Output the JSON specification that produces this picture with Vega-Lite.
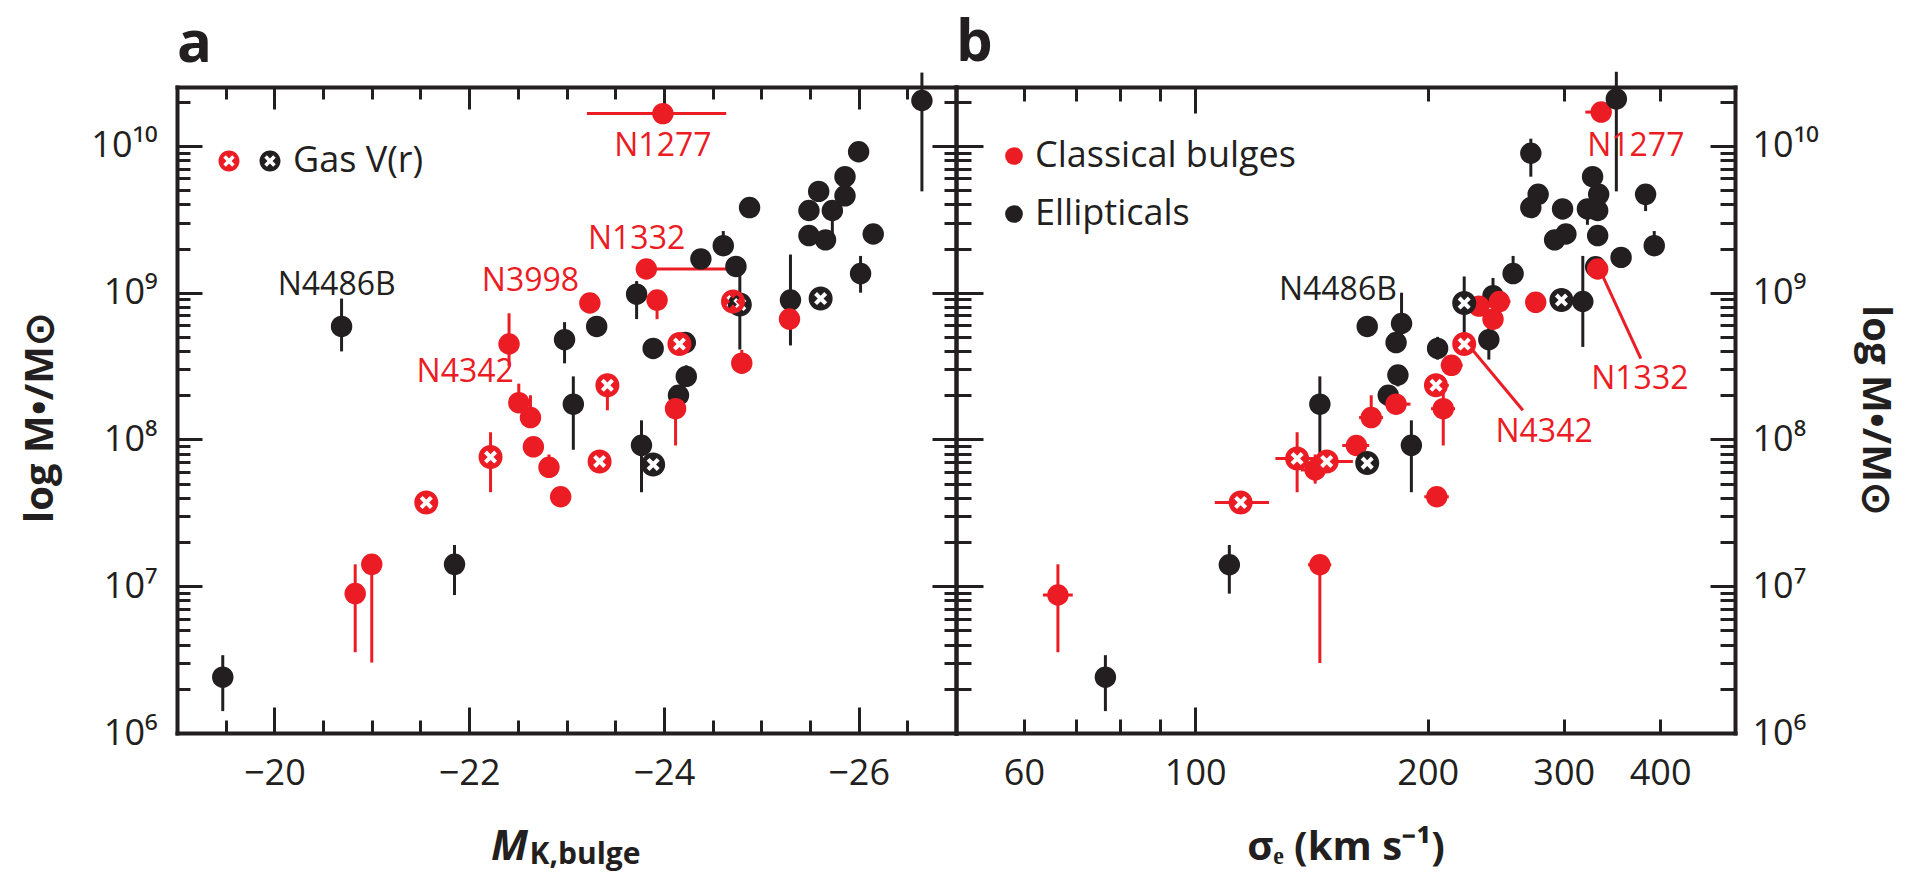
{
  "$schema": "https://vega.github.io/schema/vega-lite/v6.json",
  "background": "white",
  "padding": {"left": 20, "top": 15, "right": 15, "bottom": 5},
  "config": {
    "view": {"stroke": null},
    "font": "Open Sans",
    "axis": {"grid": false, "domainColor": "#231f20", "domainWidth": 4, "domainCap": "square", "tickColor": "#231f20", "tickWidth": 3, "labelFont": "Open Sans", "labelFontSize": 36, "labelColor": "#231f20", "labelFlush": false, "labelOverlap": false, "titleFont": "Open Sans", "titleFontSize": 40, "titleFontWeight": "bold", "titleColor": "#231f20"},
    "legend": {"labelFont": "Open Sans", "labelFontSize": 36, "labelColor": "#231f20", "labelLimit": 500, "padding": 0},
    "title": {"font": "Open Sans", "fontSize": 58, "fontWeight": "bold", "anchor": "start", "frame": "group", "color": "#231f20", "offset": -3},
    "text": {"font": "Open Sans", "fontSize": 32}
  },
  "datasets": {
    "a": [
      {"mk": -19.47, "m": 2.4e6, "lo": 1.41e6, "hi": 3.39e6, "type": "Ellipticals"},
      {"mk": -20.69, "m": 5.89e8, "lo": 3.98e8, "hi": 9.12e8, "type": "Ellipticals"},
      {"mk": -21.85, "m": 1.41e7, "lo": 8.71e6, "hi": 1.91e7, "type": "Ellipticals"},
      {"mk": -22.98, "m": 4.79e8, "lo": 3.3e8, "hi": 6.3e8, "type": "Ellipticals"},
      {"mk": -23.07, "m": 1.74e8, "lo": 8.51e7, "hi": 2.69e8, "type": "Ellipticals"},
      {"mk": -23.31, "m": 5.89e8, "type": "Ellipticals"},
      {"mk": -23.72, "m": 9.77e8, "lo": 6.61e8, "hi": 1.2e9, "type": "Ellipticals"},
      {"mk": -23.77, "m": 9.12e7, "lo": 4.37e7, "hi": 1.35e8, "type": "Ellipticals"},
      {"mk": -23.89, "m": 4.17e8, "lo": 3.55e8, "hi": 4.9e8, "type": "Ellipticals"},
      {"mk": -24.23, "m": 2.69e8, "lo": 2.3e8, "hi": 3.2e8, "type": "Ellipticals"},
      {"mk": -24.15, "m": 2.0e8, "type": "Ellipticals"},
      {"mk": -24.22, "m": 4.57e8, "type": "Ellipticals"},
      {"mk": -24.38, "m": 1.7e9, "type": "Ellipticals"},
      {"mk": -24.61, "m": 2.09e9, "lo": 1.8e9, "hi": 2.63e9, "type": "Ellipticals"},
      {"mk": -24.74, "m": 1.51e9, "type": "Ellipticals"},
      {"mk": -24.88, "m": 3.8e9, "lo": 3.3e9, "hi": 4.2e9, "type": "Ellipticals"},
      {"mk": -25.3, "m": 8.91e8, "lo": 4.37e8, "hi": 1.82e9, "type": "Ellipticals"},
      {"mk": -25.49, "m": 2.45e9, "type": "Ellipticals"},
      {"mk": -25.66, "m": 2.29e9, "lo": 2.0e9, "hi": 2.6e9, "type": "Ellipticals"},
      {"mk": -25.49, "m": 3.63e9, "type": "Ellipticals"},
      {"mk": -25.73, "m": 3.63e9, "lo": 2.51e9, "hi": 3.9e9, "type": "Ellipticals"},
      {"mk": -25.59, "m": 4.9e9, "type": "Ellipticals"},
      {"mk": -25.86, "m": 4.57e9, "type": "Ellipticals"},
      {"mk": -25.86, "m": 6.17e9, "type": "Ellipticals"},
      {"mk": -26.0, "m": 9.12e9, "lo": 7.94e9, "hi": 1.05e10, "type": "Ellipticals"},
      {"mk": -26.15, "m": 2.51e9, "lo": 2.51e9, "hi": 2.9e9, "type": "Ellipticals"},
      {"mk": -26.02, "m": 1.35e9, "lo": 1.0e9, "hi": 1.78e9, "type": "Ellipticals"},
      {"mk": -26.65, "m": 2.04e10, "lo": 4.9e9, "hi": 3.16e10, "type": "Ellipticals"},
      {"mk": -23.89, "m": 6.76e7, "type": "Ellipticals", "gas": true},
      {"mk": -25.61, "m": 9.12e8, "type": "Ellipticals", "gas": true},
      {"mk": -24.78, "m": 8.3e8, "lo": 4.1e8, "hi": 1.4e9, "type": "Ellipticals", "gas": true},
      {"mk": -20.83, "m": 8.91e6, "lo": 3.55e6, "hi": 1.41e7, "type": "Classical bulges"},
      {"mk": -21.0, "m": 1.41e7, "lo": 3.02e6, "hi": 1.41e7, "type": "Classical bulges"},
      {"mk": -22.41, "m": 4.47e8, "lo": 3.16e8, "hi": 7.24e8, "type": "Classical bulges"},
      {"mk": -22.51, "m": 1.78e8, "lo": 1.78e8, "hi": 2.4e8, "type": "Classical bulges"},
      {"mk": -22.63, "m": 1.41e8, "lo": 1.41e8, "hi": 2.0e8, "type": "Classical bulges"},
      {"mk": -22.66, "m": 8.91e7, "lo": 7.9e7, "hi": 1.0e8, "type": "Classical bulges"},
      {"mk": -22.82, "m": 6.46e7, "lo": 5.6e7, "hi": 7.9e7, "type": "Classical bulges"},
      {"mk": -22.94, "m": 4.07e7, "type": "Classical bulges"},
      {"mk": -23.24, "m": 8.51e8, "type": "Classical bulges"},
      {"mk": -23.82, "m": 1.45e9, "xlo": -23.82, "xhi": -24.74, "type": "Classical bulges"},
      {"mk": -23.93, "m": 8.91e8, "lo": 6.6e8, "hi": 8.91e8, "type": "Classical bulges"},
      {"mk": -24.12, "m": 1.62e8, "lo": 9.1e7, "hi": 2.34e8, "type": "Classical bulges"},
      {"mk": -24.8, "m": 3.31e8, "lo": 3.31e8, "hi": 4.07e8, "type": "Classical bulges"},
      {"mk": -25.29, "m": 6.61e8, "type": "Classical bulges"},
      {"mk": -23.99, "m": 1.66e10, "xlo": -23.21, "xhi": -24.64, "type": "Classical bulges"},
      {"mk": -21.56, "m": 3.72e7, "type": "Classical bulges", "gas": true},
      {"mk": -22.22, "m": 7.59e7, "lo": 4.37e7, "hi": 1.12e8, "type": "Classical bulges", "gas": true},
      {"mk": -23.34, "m": 7.08e7, "type": "Classical bulges", "gas": true},
      {"mk": -23.42, "m": 2.34e8, "lo": 1.58e8, "hi": 2.34e8, "type": "Classical bulges", "gas": true},
      {"mk": -24.16, "m": 4.47e8, "lo": 3.8e8, "hi": 5.25e8, "type": "Classical bulges", "gas": true},
      {"mk": -24.71, "m": 8.71e8, "type": "Classical bulges", "gas": true}
    ],
    "b": [
      {"s": 335.5, "m": 1.7e10, "xlo": 320, "xhi": 345, "type": "Classical bulges"},
      {"s": 76.5, "m": 2.4e6, "lo": 1.41e6, "hi": 3.39e6, "type": "Ellipticals"},
      {"s": 110.7, "m": 1.4e7, "lo": 8.9e6, "hi": 1.91e7, "type": "Ellipticals"},
      {"s": 145, "m": 1.74e8, "lo": 8.1e7, "hi": 2.69e8, "type": "Ellipticals"},
      {"s": 167, "m": 5.89e8, "type": "Ellipticals"},
      {"s": 185, "m": 6.17e8, "lo": 5.0e8, "hi": 1.0e9, "type": "Ellipticals"},
      {"s": 182, "m": 4.57e8, "type": "Ellipticals"},
      {"s": 183, "m": 2.75e8, "lo": 2.3e8, "hi": 3.2e8, "type": "Ellipticals"},
      {"s": 177.8, "m": 2.0e8, "lo": 1.7e8, "hi": 2.2e8, "type": "Ellipticals"},
      {"s": 190.5, "m": 9.12e7, "lo": 4.37e7, "hi": 1.35e8, "type": "Ellipticals"},
      {"s": 206, "m": 4.17e8, "lo": 3.5e8, "hi": 5.0e8, "type": "Ellipticals"},
      {"s": 240, "m": 4.79e8, "lo": 3.5e8, "hi": 6.3e8, "type": "Ellipticals"},
      {"s": 243, "m": 9.55e8, "lo": 7.1e8, "hi": 1.26e9, "type": "Ellipticals"},
      {"s": 258, "m": 1.35e9, "lo": 1.35e9, "hi": 1.78e9, "type": "Ellipticals"},
      {"s": 272, "m": 8.91e9, "lo": 6.17e9, "hi": 1.12e10, "type": "Ellipticals"},
      {"s": 278, "m": 4.68e9, "type": "Ellipticals"},
      {"s": 272, "m": 3.8e9, "type": "Ellipticals"},
      {"s": 299, "m": 3.72e9, "type": "Ellipticals"},
      {"s": 302, "m": 2.51e9, "type": "Ellipticals"},
      {"s": 292, "m": 2.29e9, "type": "Ellipticals"},
      {"s": 317.6, "m": 8.71e8, "lo": 4.27e8, "hi": 1.78e9, "type": "Ellipticals"},
      {"s": 322, "m": 3.72e9, "lo": 2.9e9, "hi": 3.72e9, "type": "Ellipticals"},
      {"s": 327, "m": 6.17e9, "type": "Ellipticals"},
      {"s": 333, "m": 4.68e9, "type": "Ellipticals"},
      {"s": 332, "m": 3.63e9, "type": "Ellipticals"},
      {"s": 332, "m": 2.45e9, "type": "Ellipticals"},
      {"s": 330, "m": 1.5e9, "type": "Ellipticals"},
      {"s": 351, "m": 2.09e10, "lo": 4.9e9, "hi": 3.2e10, "type": "Ellipticals"},
      {"s": 356, "m": 1.74e9, "type": "Ellipticals"},
      {"s": 383, "m": 4.68e9, "lo": 3.6e9, "hi": 4.68e9, "type": "Ellipticals"},
      {"s": 393, "m": 2.09e9, "lo": 2.09e9, "hi": 2.63e9, "type": "Ellipticals"},
      {"s": 167, "m": 6.9e7, "type": "Ellipticals", "gas": true},
      {"s": 223, "m": 8.5e8, "lo": 4.37e8, "hi": 1.29e9, "type": "Ellipticals", "gas": true},
      {"s": 298, "m": 8.91e8, "type": "Ellipticals", "gas": true},
      {"s": 66.4, "m": 8.71e6, "lo": 3.55e6, "hi": 1.41e7, "xlo": 63.5, "xhi": 69.4, "type": "Classical bulges"},
      {"s": 145, "m": 1.4e7, "lo": 3.0e6, "hi": 1.4e7, "xlo": 140, "xhi": 150, "type": "Classical bulges"},
      {"s": 143, "m": 6.2e7, "lo": 5.0e7, "hi": 7.9e7, "xlo": 137, "xhi": 149, "type": "Classical bulges"},
      {"s": 161.7, "m": 9.1e7, "xlo": 155, "xhi": 168, "type": "Classical bulges"},
      {"s": 169, "m": 1.41e8, "lo": 1.41e8, "hi": 2.0e8, "xlo": 163, "xhi": 175, "type": "Classical bulges"},
      {"s": 182, "m": 1.74e8, "xlo": 176, "xhi": 190, "type": "Classical bulges"},
      {"s": 205.5, "m": 4.07e7, "xlo": 198, "xhi": 213, "type": "Classical bulges"},
      {"s": 209.5, "m": 1.62e8, "lo": 9.1e7, "hi": 2.3e8, "xlo": 202, "xhi": 217, "type": "Classical bulges"},
      {"s": 214.7, "m": 3.2e8, "xlo": 208, "xhi": 222, "type": "Classical bulges"},
      {"s": 233, "m": 8.1e8, "lo": 7.0e8, "hi": 9.3e8, "xlo": 225, "xhi": 242, "type": "Classical bulges"},
      {"s": 243, "m": 6.6e8, "lo": 6.0e8, "hi": 7.5e8, "xlo": 236, "xhi": 250, "type": "Classical bulges"},
      {"s": 247.6, "m": 8.7e8, "xlo": 240, "xhi": 256, "type": "Classical bulges"},
      {"s": 276, "m": 8.6e8, "type": "Classical bulges"},
      {"s": 332, "m": 1.45e9, "type": "Classical bulges"},
      {"s": 114.5, "m": 3.72e7, "xlo": 106, "xhi": 124.6, "type": "Classical bulges", "gas": true},
      {"s": 135.5, "m": 7.41e7, "lo": 4.37e7, "hi": 1.12e8, "xlo": 127, "xhi": 146, "type": "Classical bulges", "gas": true},
      {"s": 148, "m": 7.08e7, "xlo": 141, "xhi": 160, "type": "Classical bulges", "gas": true},
      {"s": 205, "m": 2.34e8, "xlo": 198, "xhi": 213, "type": "Classical bulges", "gas": true},
      {"s": 223, "m": 4.47e8, "lo": 3.8e8, "hi": 5.3e8, "type": "Classical bulges", "gas": true}
    ],
    "labelsA": [
      {"t": "N1277", "mk": -23.99, "m": 1.0e10, "type": "Classical bulges"},
      {"t": "N1332", "mk": -23.72, "m": 2.32e9, "type": "Classical bulges"},
      {"t": "N3998", "mk": -22.63, "m": 1.2e9, "type": "Classical bulges"},
      {"t": "N4342", "mk": -21.96, "m": 2.88e8, "type": "Classical bulges"},
      {"t": "N4486B", "mk": -20.64, "m": 1.12e9, "type": "Ellipticals"}
    ],
    "labelsB": [
      {"t": "N1277", "s": 372, "m": 1.0e10, "type": "Classical bulges"},
      {"t": "N4486B", "s": 153, "m": 1.05e9, "type": "Ellipticals"},
      {"t": "N4342", "s": 283, "m": 1.12e8, "type": "Classical bulges"},
      {"t": "N1332", "s": 376.5, "m": 2.59e8, "type": "Classical bulges"}
    ],
    "leaders": [
      {"s": 227.8, "m": 4.17e8, "s2": 265.6, "m2": 1.58e8},
      {"s": 336.5, "m": 1.32e9, "s2": 377.6, "m2": 3.55e8}
    ]
  },
  "spacing": 0,
  "bounds": "flush",
  "resolve": {"scale": {"color": "independent"}, "legend": {"color": "independent"}},
  "hconcat": [
    {
      "width": 779,
      "height": 646,
      "title": {"text": "a"},
      "resolve": {"axis": {"x": "independent", "y": "independent"}},
      "layer": [
        {
          "data": {"name": "a"},
          "transform": [{"filter": "isValid(datum.lo)"}],
          "mark": {"type": "rule", "strokeWidth": 3},
          "encoding": {
            "x": {"field": "mk", "type": "quantitative", "scale": {"domain": [-19, -27], "nice": false, "zero": false},
              "axis": {"orient": "bottom", "values": [-20, -22, -24, -26], "tickSize": -26, "labelPadding": 49, "labelExpr": "'\u2212' + format(abs(datum.value), 'd')", "title": "M", "titleFontStyle": "italic", "titleFontSize": 42, "titleX": 332, "titleY": 126, "titleAlign": "center", "titleBaseline": "alphabetic"}},
            "y": {"field": "lo", "type": "quantitative", "scale": {"type": "log", "domain": [1e6, 2.52e10], "nice": false},
              "axis": {"orient": "left", "values": [1e6, 1e7, 1e8, 1e9, 1e10], "tickSize": -25, "labelPadding": 45, "labelExpr": "datum.value > 5e9 ? '10\u00b9\u2070' : datum.value > 5e8 ? '10\u2079' : datum.value > 5e7 ? '10\u2078' : datum.value > 5e6 ? '10\u2077' : '10\u2076'", "title": "log M\u2022/M\u2299", "titleX": -137, "titleY": 330, "titleAlign": "center", "titleBaseline": "middle", "titleAngle": -90}},
            "y2": {"field": "hi"},
            "color": {"condition": {"test": "datum.type == 'Ellipticals'", "value": "#231f20"}, "value": "#ec1c24"}
          }
        },
        {
          "data": {"name": "a"},
          "transform": [{"filter": "isValid(datum.xlo)"}],
          "mark": {"type": "rule", "strokeWidth": 3},
          "encoding": {
            "x": {"field": "xlo", "type": "quantitative", "scale": {"domain": [-19, -27], "nice": false, "zero": false},
              "axis": {"orient": "bottom", "values": [-19.5, -20.5, -21, -21.5, -22.5, -23, -23.5, -24.5, -25, -25.5, -26.5], "tickSize": -13, "labels": false, "domain": false, "title": "K,bulge", "titleFontSize": 30, "titleX": 352, "titleY": 130, "titleAlign": "left", "titleBaseline": "alphabetic"}},
            "x2": {"field": "xhi"},
            "y": {"field": "m", "type": "quantitative", "scale": {"type": "log", "domain": [1e6, 2.52e10], "nice": false},
              "axis": {"orient": "left", "values": [2e6, 3e6, 4e6, 5e6, 6e6, 7e6, 8e6, 9e6, 2e7, 3e7, 4e7, 5e7, 6e7, 7e7, 8e7, 9e7, 2e8, 3e8, 4e8, 5e8, 6e8, 7e8, 8e8, 9e8, 2e9, 3e9, 4e9, 5e9, 6e9, 7e9, 8e9, 9e9, 2e10], "tickSize": -13, "labels": false, "domain": false, "title": null}},
            "color": {"condition": {"test": "datum.type == 'Ellipticals'", "value": "#231f20"}, "value": "#ec1c24"}
          }
        },
        {
          "data": {"name": "a"},
          "transform": [{"filter": "!datum.gas"}],
          "mark": {"type": "point", "shape": "circle", "filled": true, "size": 460, "opacity": 1},
          "encoding": {
            "x": {"field": "mk", "type": "quantitative", "scale": {"domain": [-19, -27], "nice": false, "zero": false},
              "axis": {"orient": "top", "values": [-20, -22, -24, -26], "tickSize": -22, "labels": false, "title": null}},
            "y": {"field": "m", "type": "quantitative", "scale": {"type": "log", "domain": [1e6, 2.52e10], "nice": false},
              "axis": {"orient": "right", "values": [1e6, 1e7, 1e8, 1e9, 1e10], "tickSize": -24, "labels": false, "title": null}},
            "color": {"condition": {"test": "datum.type == 'Ellipticals'", "value": "#231f20"}, "value": "#ec1c24"}
          }
        },
        {
          "data": {"name": "a"},
          "transform": [{"filter": "datum.gas"}],
          "mark": {"type": "point", "shape": "circle", "filled": true, "size": 320, "opacity": 1, "color": "white"},
          "encoding": {
            "x": {"field": "mk", "type": "quantitative", "scale": {"domain": [-19, -27], "nice": false, "zero": false},
              "axis": {"orient": "top", "values": [-19.5, -20.5, -21, -21.5, -22.5, -23, -23.5, -24.5, -25, -25.5, -26.5], "tickSize": -12, "labels": false, "domain": false, "title": null}},
            "y": {"field": "m", "type": "quantitative", "scale": {"type": "log", "domain": [1e6, 2.52e10], "nice": false},
              "axis": {"orient": "right", "values": [2e6, 3e6, 4e6, 5e6, 6e6, 7e6, 8e6, 9e6, 2e7, 3e7, 4e7, 5e7, 6e7, 7e7, 8e7, 9e7, 2e8, 3e8, 4e8, 5e8, 6e8, 7e8, 8e8, 9e8, 2e9, 3e9, 4e9, 5e9, 6e9, 7e9, 8e9, 9e9, 2e10], "tickSize": -12, "labels": false, "domain": false, "title": null}}
          }
        },
        {
          "data": {"name": "a"},
          "transform": [{"filter": "datum.gas"}],
          "mark": {"type": "point", "filled": true, "size": 576, "opacity": 1, "shape": "M1,0A1,1,0,1,1,-1,0A1,1,0,1,1,1,0Z M-0.304,0.544L0,0.24L0.304,0.544L0.544,0.304L0.24,0L0.544,-0.304L0.304,-0.544L0,-0.24L-0.304,-0.544L-0.544,-0.304L-0.24,0L-0.544,0.304Z"},
          "encoding": {
            "x": {"field": "mk", "type": "quantitative", "scale": {"domain": [-19, -27], "nice": false, "zero": false}, "axis": null},
            "y": {"field": "m", "type": "quantitative", "scale": {"type": "log", "domain": [1e6, 2.52e10], "nice": false}, "axis": null},
            "color": {"field": "type", "type": "nominal", "scale": {"domain": ["Classical bulges", "Ellipticals"], "range": ["#ec1c24", "#231f20"]},
              "legend": {"title": null, "orient": "none", "legendX": 34, "legendY": 56, "direction": "horizontal", "gridAlign": "none", "symbolType": "M1,0A1,1,0,1,1,-1,0A1,1,0,1,1,1,0Z M-0.304,0.544L0,0.24L0.304,0.544L0.544,0.304L0.24,0L0.544,-0.304L0.304,-0.544L0,-0.24L-0.304,-0.544L-0.544,-0.304L-0.24,0L-0.544,0.304Z", "symbolSize": 441, "symbolStrokeWidth": 0, "labelOffset": 5, "columnPadding": 0,
                "labelExpr": "datum.value == 'Ellipticals' ? 'Gas V(r)' : ''",
                "encode": {"symbols": {"opacity": {"value": 1}}}}}
          }
        },
        {
          "data": {"name": "labelsA"},
          "mark": {"type": "text", "fontSize": 32},
          "encoding": {
            "x": {"field": "mk", "type": "quantitative", "scale": {"domain": [-19, -27], "nice": false, "zero": false}, "axis": null},
            "y": {"field": "m", "type": "quantitative", "scale": {"type": "log", "domain": [1e6, 2.52e10], "nice": false}, "axis": null},
            "text": {"field": "t"},
            "color": {"condition": {"test": "datum.type == 'Ellipticals'", "value": "#231f20"}, "value": "#ec1c24"}
          }
        }
      ]
    },
    {
      "width": 779,
      "height": 646,
      "title": {"text": "b"},
      "resolve": {"axis": {"x": "independent", "y": "independent"}},
      "layer": [
        {
          "data": {"name": "b"},
          "transform": [{"filter": "isValid(datum.lo)"}],
          "mark": {"type": "rule", "strokeWidth": 3},
          "encoding": {
            "x": {"field": "s", "type": "quantitative", "scale": {"type": "log", "domain": [49, 500], "nice": false},
              "axis": {"orient": "bottom", "values": [60, 100, 200, 300, 400], "ticks": false, "labelPadding": 23, "format": "d", "title": "\u03c3\u2091 (km s\u207b\u00b9)", "titleY": 126, "titleBaseline": "alphabetic"}},
            "y": {"field": "lo", "type": "quantitative", "scale": {"type": "log", "domain": [1e6, 2.52e10], "nice": false},
              "axis": {"orient": "left", "values": [1e6, 1e7, 1e8, 1e9, 1e10], "tickSize": -27, "labels": false, "title": null}},
            "y2": {"field": "hi"},
            "color": {"condition": {"test": "datum.type == 'Ellipticals'", "value": "#231f20"}, "value": "#ec1c24"}
          }
        },
        {
          "data": {"name": "b"},
          "transform": [{"filter": "isValid(datum.xlo)"}],
          "mark": {"type": "rule", "strokeWidth": 3},
          "encoding": {
            "x": {"field": "xlo", "type": "quantitative", "scale": {"type": "log", "domain": [49, 500], "nice": false},
              "axis": {"orient": "bottom", "values": [100], "tickSize": -26, "labels": false, "domain": false, "title": null}},
            "x2": {"field": "xhi"},
            "y": {"field": "m", "type": "quantitative", "scale": {"type": "log", "domain": [1e6, 2.52e10], "nice": false},
              "axis": {"orient": "left", "values": [2e6, 3e6, 4e6, 5e6, 6e6, 7e6, 8e6, 9e6, 2e7, 3e7, 4e7, 5e7, 6e7, 7e7, 8e7, 9e7, 2e8, 3e8, 4e8, 5e8, 6e8, 7e8, 8e8, 9e8, 2e9, 3e9, 4e9, 5e9, 6e9, 7e9, 8e9, 9e9, 2e10], "tickSize": -15, "labels": false, "domain": false, "title": null}},
            "color": {"condition": {"test": "datum.type == 'Ellipticals'", "value": "#231f20"}, "value": "#ec1c24"}
          }
        },
        {
          "data": {"name": "b"},
          "transform": [{"filter": "!datum.gas"}],
          "mark": {"type": "point", "shape": "circle", "filled": true, "size": 460, "opacity": 1},
          "encoding": {
            "x": {"field": "s", "type": "quantitative", "scale": {"type": "log", "domain": [49, 500], "nice": false},
              "axis": {"orient": "bottom", "values": [60, 70, 80, 90, 200, 300, 400], "tickSize": -14, "labels": false, "domain": false, "title": null}},
            "y": {"field": "m", "type": "quantitative", "scale": {"type": "log", "domain": [1e6, 2.52e10], "nice": false},
              "axis": {"orient": "right", "values": [1e6, 1e7, 1e8, 1e9, 1e10], "tickSize": -25, "labelPadding": 42, "labelExpr": "datum.value > 5e9 ? '10\u00b9\u2070' : datum.value > 5e8 ? '10\u2079' : datum.value > 5e7 ? '10\u2078' : datum.value > 5e6 ? '10\u2077' : '10\u2076'", "title": "log M\u2022/M\u2299", "titleX": 139, "titleY": 323, "titleAlign": "center", "titleBaseline": "middle", "titleAngle": 90}},
            "color": {"field": "type", "type": "nominal", "scale": {"domain": ["Classical bulges", "Ellipticals"], "range": ["#ec1c24", "#231f20"]},
              "legend": {"title": null, "orient": "none", "legendX": 40, "legendY": 51, "symbolType": "circle", "symbolSize": 314, "symbolStrokeWidth": 0, "labelOffset": 3, "rowPadding": 22,
                "encode": {"labels": {"fill": {"condition": {"test": "datum.value == 'Classical bulges'", "value": "#ec1c24"}, "value": "#231f20"}}, "symbols": {"opacity": {"value": 1}}}}}
          }
        },
        {
          "data": {"name": "b"},
          "transform": [{"filter": "datum.gas"}],
          "mark": {"type": "point", "shape": "circle", "filled": true, "size": 320, "opacity": 1, "color": "white"},
          "encoding": {
            "x": {"field": "s", "type": "quantitative", "scale": {"type": "log", "domain": [49, 500], "nice": false},
              "axis": {"orient": "top", "values": [100], "tickSize": -26, "labels": false, "title": null}},
            "y": {"field": "m", "type": "quantitative", "scale": {"type": "log", "domain": [1e6, 2.52e10], "nice": false},
              "axis": {"orient": "right", "values": [2e6, 3e6, 4e6, 5e6, 6e6, 7e6, 8e6, 9e6, 2e7, 3e7, 4e7, 5e7, 6e7, 7e7, 8e7, 9e7, 2e8, 3e8, 4e8, 5e8, 6e8, 7e8, 8e8, 9e8, 2e9, 3e9, 4e9, 5e9, 6e9, 7e9, 8e9, 9e9, 2e10], "tickSize": -15, "labels": false, "domain": false, "title": null}}
          }
        },
        {
          "data": {"name": "b"},
          "transform": [{"filter": "datum.gas"}],
          "mark": {"type": "point", "filled": true, "size": 576, "opacity": 1, "shape": "M1,0A1,1,0,1,1,-1,0A1,1,0,1,1,1,0Z M-0.304,0.544L0,0.24L0.304,0.544L0.544,0.304L0.24,0L0.544,-0.304L0.304,-0.544L0,-0.24L-0.304,-0.544L-0.544,-0.304L-0.24,0L-0.544,0.304Z"},
          "encoding": {
            "x": {"field": "s", "type": "quantitative", "scale": {"type": "log", "domain": [49, 500], "nice": false},
              "axis": {"orient": "top", "values": [60, 70, 80, 90, 200, 300, 400], "tickSize": -14, "labels": false, "domain": false, "title": null}},
            "y": {"field": "m", "type": "quantitative", "scale": {"type": "log", "domain": [1e6, 2.52e10], "nice": false}, "axis": null},
            "color": {"condition": {"test": "datum.type == 'Ellipticals'", "value": "#231f20"}, "value": "#ec1c24"}
          }
        },
        {
          "data": {"name": "leaders"},
          "mark": {"type": "rule", "strokeWidth": 3, "color": "#ec1c24"},
          "encoding": {
            "x": {"field": "s", "type": "quantitative", "scale": {"type": "log", "domain": [49, 500], "nice": false}, "axis": null},
            "y": {"field": "m", "type": "quantitative", "scale": {"type": "log", "domain": [1e6, 2.52e10], "nice": false}, "axis": null},
            "x2": {"field": "s2"},
            "y2": {"field": "m2"}
          }
        },
        {
          "data": {"name": "labelsB"},
          "mark": {"type": "text", "fontSize": 32},
          "encoding": {
            "x": {"field": "s", "type": "quantitative", "scale": {"type": "log", "domain": [49, 500], "nice": false}, "axis": null},
            "y": {"field": "m", "type": "quantitative", "scale": {"type": "log", "domain": [1e6, 2.52e10], "nice": false}, "axis": null},
            "text": {"field": "t"},
            "color": {"condition": {"test": "datum.type == 'Ellipticals'", "value": "#231f20"}, "value": "#ec1c24"}
          }
        }
      ]
    }
  ]
}
